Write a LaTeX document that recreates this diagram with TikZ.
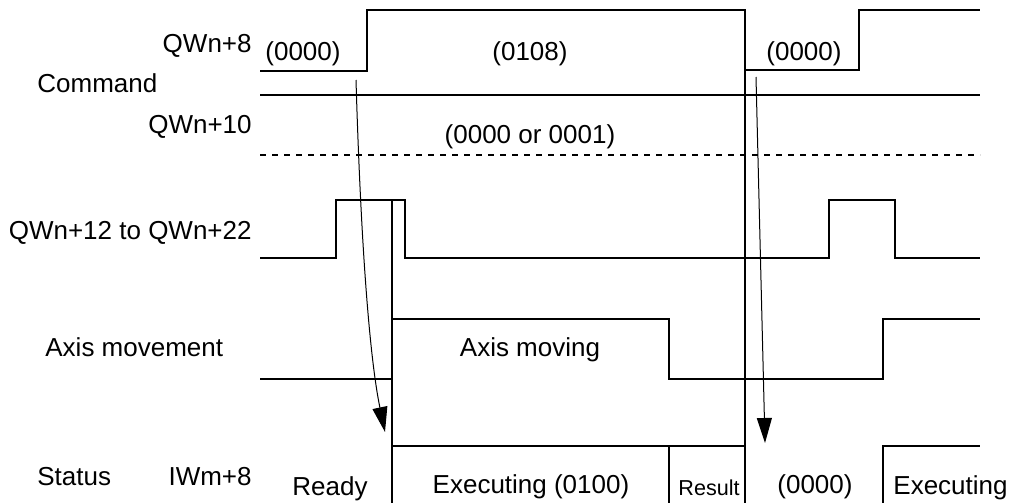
\documentclass[tikz,border=0pt]{standalone}
\usepackage{fontspec}
\setmainfont{Liberation Sans}
\usepackage{tikz}
\usetikzlibrary{arrows.meta}
\tikzset{
  wave/.style={line width=0.75pt},
  txt/.style={inner sep=0pt, font=\fontsize{13}{15}\selectfont},
  smalltxt/.style={inner sep=0pt, font=\fontsize{10.8}{12}\selectfont},
  trig/.style={line width=0.5pt, -{Triangle[length=12.5pt,width=7.5pt]}}
}
\begin{document}
\begin{tikzpicture}[x=0.5pt,y=-0.5pt]
\useasboundingbox (0,0) rectangle (1018,503);
% row names
\node[txt,anchor=base east] (qw8) at (252,52) {QWn+8};
\node[txt,anchor=base west] (cmd) at (37,92) {Command};
\node[txt,anchor=base east] (qw10) at (252,133) {QWn+10};
\node[txt,anchor=base east] (qw12) at (252,239) {QWn+12 to QWn+22};
\node[txt,anchor=base west] (axis) at (45,356) {Axis movement};
\node[txt,anchor=base west] (stat) at (37,485) {Status};
\node[txt,anchor=base east] (iw8) at (252,485) {IWm+8};
% values
\node[txt,anchor=base] (cmdA) at (303,61) {(0000)};
\node[txt,anchor=base] (cmdB) at (530,61) {(0108)};
\node[txt,anchor=base] (cmdC) at (804,61) {(0000)};
\node[txt,anchor=base] (optv) at (530,143) {(0000 or 0001)};
\node[txt,anchor=base] (mov) at (530,356) {Axis moving};
\node[txt,anchor=base west] (rdy) at (292,495) {Ready};
\node[txt,anchor=base] (exeA) at (531,493) {Executing (0100)};
\node[smalltxt,anchor=base west] (res) at (678,495) {Result};
\node[txt,anchor=base] (zero) at (815,493) {(0000)};
\node[txt,anchor=base west] (exeB) at (893,494) {Executing};
% waveforms
\draw[wave] (260,71) -- (367,71) -- (367,10) -- (745,10) -- (745,70) -- (859,70) -- (859,10) -- (980,10);
\draw[wave] (260,95) -- (980,95);
\draw[wave,dashed] (260,155) -- (980,155);
\draw[wave] (260,258) -- (336,258) -- (336,200) -- (405,200) -- (405,258) -- (829,258) -- (829,200) -- (895,200) -- (895,258) -- (980,258);
\draw[wave] (260,379) -- (392,379) -- (392,319) -- (669,319) -- (669,379) -- (883,379) -- (883,319) -- (980,319);
\draw[wave] (392,446) -- (745,446);
\draw[wave] (669,446) -- (669,503);
\draw[wave] (883,503) -- (883,446) -- (980,446);
\draw[wave] (392,200) -- (392,503);
\draw[wave] (745,10) -- (745,503);
% triggers
\coordinate (go1) at (356,80);
\coordinate (st1) at (385,432);
\coordinate (go2) at (756,77);
\coordinate (st2) at (765,443);
\draw[trig] (go1) .. controls (361,250) and (370,360) .. (st1);
\draw[trig] (go2) -- (st2);
\end{tikzpicture}
\end{document}
